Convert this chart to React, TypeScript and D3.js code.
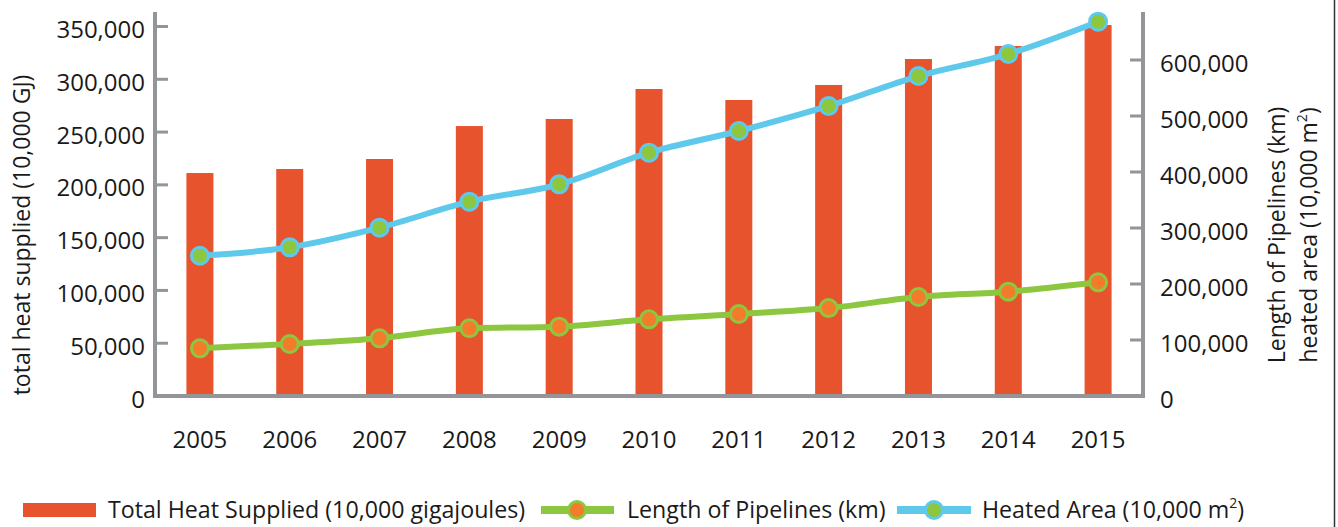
import React from "react";
import * as d3 from "d3";

// District heating statistics, 2005–2015
const years = ["2005", "2006", "2007", "2008", "2009", "2010", "2011", "2012", "2013", "2014", "2015"];
// Total heat supplied (10,000 GJ) – left axis
const heatSupplied = [211200, 215000, 224500, 255700, 262400, 290800, 280400, 294600, 319200, 331500, 351400];
// Length of pipelines (km) – right axis
const pipelineLength = [85100, 92900, 103000, 120900, 123800, 136900, 146400, 157000, 176800, 186300, 203000];
// Heated area (10,000 m²) – right axis
const heatedArea = [250500, 265500, 300600, 347000, 378000, 434500, 473200, 517900, 571400, 610700, 668400];

const leftTicks = [0, 50000, 100000, 150000, 200000, 250000, 300000, 350000];
const rightTicks = [0, 100000, 200000, 300000, 400000, 500000, 600000];

const W = 1338;
const H = 527;
const FONT = "'Open Sans', Lato, sans-serif";
const AXIS = "#939598";
const BAR = "#e6532c";
const GREEN = "#8dc63f";
const BLUE = "#5ec9eb";
const ORANGE = "#f37b2c";
const TEXT = "#1a1a1a";

const plotLeft = 155;
const plotRight = 1143;
const plotBottom = 396;
const axisTop = 12;

export default function App() {
  const x = d3.scaleBand<string>().domain(years).range([plotLeft, plotRight]).padding(0);
  const yL = d3.scaleLinear().domain([0, 350000]).range([plotBottom, 26.5]);
  const yR = d3.scaleLinear().domain([0, 600000]).range([plotBottom, 60]);
  const fmt = d3.format(",");
  const barW = 27;
  const cx = (yr: string) => (x(yr) as number) + x.bandwidth() / 2;

  const line = d3
    .line<number>()
    .x((_, i) => cx(years[i]))
    .y((v) => yR(v))
    .curve(d3.curveMonotoneX);

  return (
    <svg
      width={W}
      height={H}
      style={{ position: "absolute", left: 0, top: 0, background: "#fff" }}
      fontFamily={FONT}
    >
      {/* bars */}
      {heatSupplied.map((v, i) => (
        <rect
          key={"b" + i}
          x={cx(years[i]) - barW / 2}
          y={yL(v)}
          width={barW}
          height={plotBottom - yL(v)}
          fill={BAR}
        />
      ))}

      {/* axes */}
      <g stroke={AXIS} fill="none">
        <line x1={plotLeft} x2={plotLeft} y1={axisTop} y2={plotBottom + 2} strokeWidth={4} />
        <line x1={plotRight} x2={plotRight} y1={axisTop} y2={plotBottom + 2} strokeWidth={4} />
        <line x1={plotLeft - 2} x2={plotRight + 2} y1={plotBottom} y2={plotBottom} strokeWidth={4} />
        {leftTicks.slice(1).map((t) => (
          <line key={"lt" + t} x1={plotLeft} x2={plotLeft + 13} y1={yL(t)} y2={yL(t)} strokeWidth={3} />
        ))}
        {rightTicks.slice(1).map((t) => (
          <line key={"rt" + t} x1={plotRight - 13} x2={plotRight} y1={yR(t)} y2={yR(t)} strokeWidth={3} />
        ))}
      </g>

      {/* tick labels */}
      <g fontSize={24} fill={TEXT}>
        {leftTicks.map((t) => (
          <text key={"ll" + t} x={145} y={yL(t) + 2} textAnchor="end" dominantBaseline="central">
            {fmt(t)}
          </text>
        ))}
        {rightTicks.map((t) => (
          <text key={"rl" + t} x={1160} y={yR(t) + 2.5} dominantBaseline="central">
            {fmt(t)}
          </text>
        ))}
        {years.map((yr) => (
          <text key={"yl" + yr} x={cx(yr)} y={448} textAnchor="middle">
            {yr}
          </text>
        ))}
      </g>

      {/* axis titles */}
      <g fontSize={23} fill={TEXT} textAnchor="middle">
        <text transform="translate(30,235) rotate(-90)">total heat supplied (10,000 GJ)</text>
        <text transform="translate(1285,235) rotate(-90)">Length of Pipelines (km)</text>
        <text transform="translate(1317,235) rotate(-90)">
          heated area (10,000 m
          <tspan fontSize={14} dy={-10}>2</tspan>
          <tspan dy={10}>)</tspan>
        </text>
      </g>

      {/* lines */}
      <path d={line(pipelineLength) || ""} fill="none" stroke={GREEN} strokeWidth={6} />
      <path d={line(heatedArea) || ""} fill="none" stroke={BLUE} strokeWidth={6} />
      {pipelineLength.map((v, i) => (
        <circle key={"pc" + i} cx={cx(years[i])} cy={yR(v)} r={8.5} fill={ORANGE} stroke={GREEN} strokeWidth={3} />
      ))}
      {heatedArea.map((v, i) => (
        <circle key={"ac" + i} cx={cx(years[i])} cy={yR(v)} r={8.5} fill={GREEN} stroke={BLUE} strokeWidth={3} />
      ))}

      {/* legend */}
      <g fontSize={23.2} fill={TEXT}>
        <rect x={23} y={503} width={73} height={14} fill={BAR} />
        <text x={108} y={518}>Total Heat Supplied (10,000 gigajoules)</text>

        <line x1={541} x2={614} y1={510} y2={510} stroke={GREEN} strokeWidth={8} />
        <circle cx={577} cy={510} r={8.5} fill={ORANGE} stroke={GREEN} strokeWidth={3} />
        <text x={627} y={518}>Length of Pipelines (km)</text>

        <line x1={897} x2={971} y1={510} y2={510} stroke={BLUE} strokeWidth={8} />
        <circle cx={934} cy={510} r={8.5} fill={GREEN} stroke={BLUE} strokeWidth={3} />
        <text x={982} y={518}>
          Heated Area (10,000 m
          <tspan fontSize={14} dy={-10}>2</tspan>
          <tspan dy={10}>)</tspan>
        </text>
      </g>

      {/* right frame edge */}
      <line x1={1334.5} x2={1334.5} y1={0} y2={H} stroke="#333" strokeWidth={1.5} />
    </svg>
  );
}
